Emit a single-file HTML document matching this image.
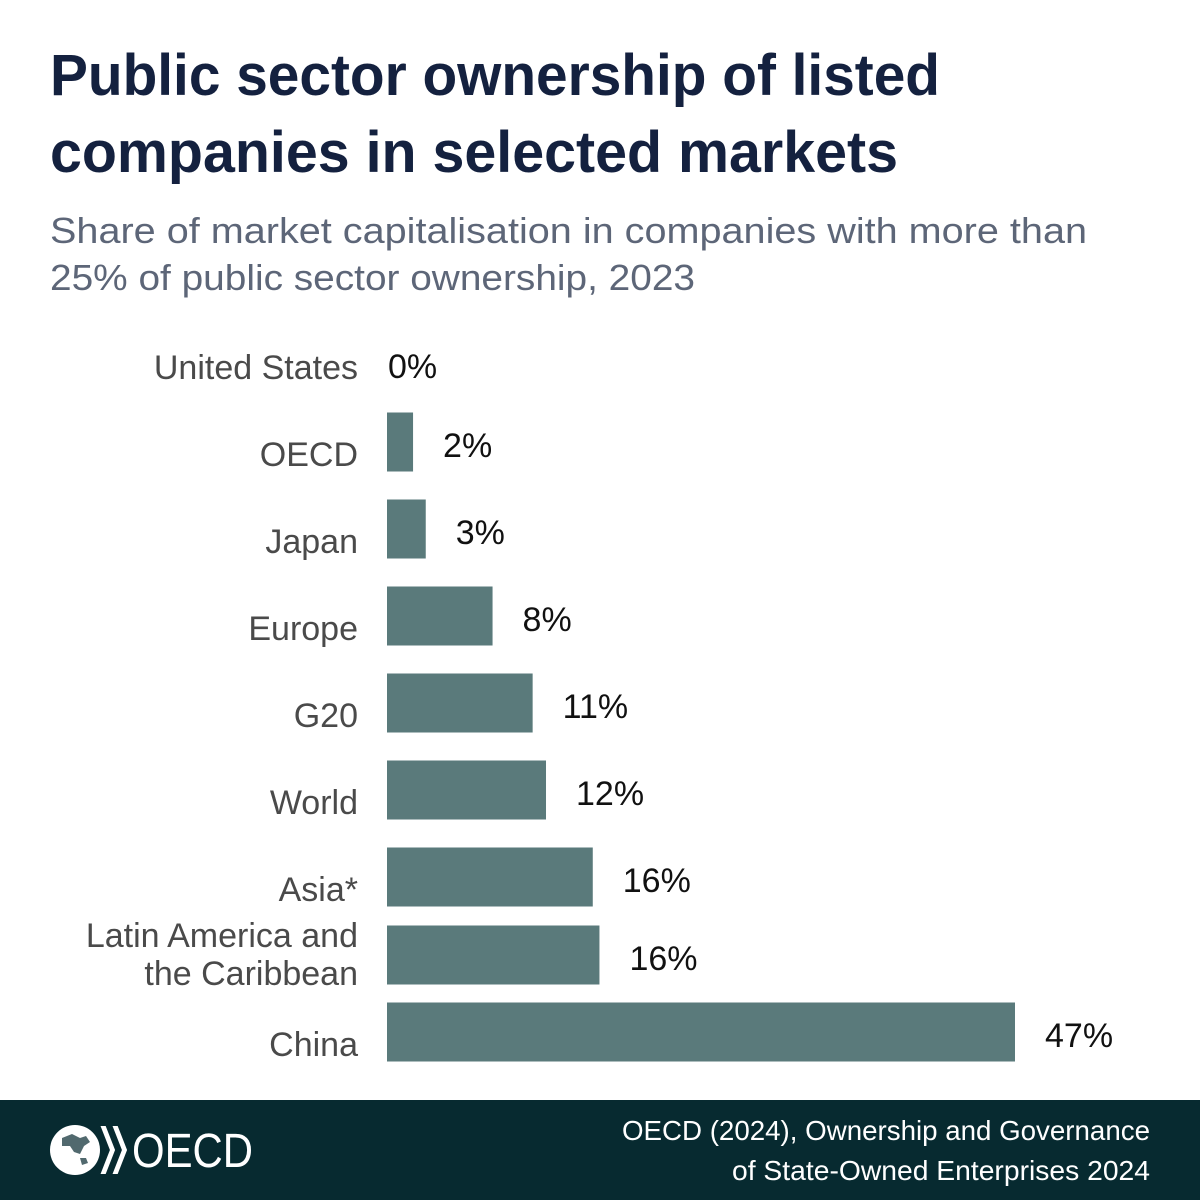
<!DOCTYPE html>
<html><head><meta charset="utf-8"><style>
html,body{margin:0;padding:0;background:#fff}
svg{display:block}
text{font-family:"Liberation Sans",sans-serif}
</style></head><body>
<svg width="1200" height="1200" viewBox="0 0 1200 1200">
<rect x="0" y="0" width="1200" height="1200" fill="#fff"/>
<g fill="#14213f" font-weight="bold" font-size="58">
<text x="50" y="95" textLength="890" lengthAdjust="spacingAndGlyphs">Public sector ownership of listed</text>
<text x="50" y="172" textLength="848" lengthAdjust="spacingAndGlyphs">companies in selected markets</text>
</g>
<g fill="#5d6678" font-size="36">
<text x="50" y="243" textLength="1037" lengthAdjust="spacingAndGlyphs">Share of market capitalisation in companies with more than</text>
<text x="50" y="290" textLength="645" lengthAdjust="spacingAndGlyphs">25% of public sector ownership, 2023</text>
</g>
<g id="bars"></g>
<rect x="0" y="1100" width="1200" height="100" fill="#072a30"/>
<g>
<circle cx="75" cy="1150" r="25" fill="#fff"/>
<path d="M62 1138 l10 -4 l8 4 l6 -2 l4 6 l-6 4 l-4 8 l-6 -2 l-4 -6 l-8 0 z M80 1158 l6 0 l2 5 l-6 2 z" fill="#072a30" opacity="0.7"/>
<path d="M102 1127 l9 23 l-9 23 l3 0 l9 -23 l-9 -23 z M114 1127 l9 23 l-9 23 l3 0 l9 -23 l-9 -23 z" fill="#fff" stroke="#fff" stroke-width="2"/>
<text x="132" y="1167" font-size="48" fill="#fff" textLength="121" lengthAdjust="spacingAndGlyphs">OECD</text>
</g>
<g fill="#fff" font-size="28" text-anchor="end">
<text x="1150" y="1140" textLength="528" lengthAdjust="spacingAndGlyphs">OECD (2024), Ownership and Governance</text>
<text x="1150" y="1180" textLength="418" lengthAdjust="spacingAndGlyphs">of State-Owned Enterprises 2024</text>
</g>
</svg>
<script>
const categories = ["United States","OECD","Japan","Europe","G20","World","Asia*","Latin America and|the Caribbean","China"];
const values = [0, 1.95, 2.9, 7.9, 10.9, 11.9, 15.4, 15.9, 47];
const valueLabels = ["0%","2%","3%","8%","11%","12%","16%","16%","47%"];

const NS = "http://www.w3.org/2000/svg";
const g = document.getElementById('bars');
const x0 = 387, pxPer = 628/47;
function xScale(v){ return x0 + v*pxPer; }
function yCenter(i){ return i <= 6 ? 355 + i*87 : (i === 7 ? 955 : 1032); }
const barH = 59;
function mk(tag, attrs){ const e = document.createElementNS(NS, tag); for (const k in attrs) e.setAttribute(k, attrs[k]); return e; }
categories.forEach((c, i) => {
  const cy = yCenter(i);
  const bar = mk('rect', {x: x0, y: cy - barH/2, width: Math.max(0, xScale(values[i]) - x0), height: barH, fill: '#5a7a7b'});
  
  
  g.appendChild(bar);
  const lines = c.split('|');
  lines.forEach((ln, j) => {
    const y = lines.length === 1 ? cy + 24 : cy - 8 + j*38;
    const t = mk('text', {x: 358, y: y, 'text-anchor': 'end', 'font-size': 34, fill: '#4a4a4a'});
    t.textContent = ln;
    
    
    g.appendChild(t);
  });
  const vx = values[i] === 0 ? x0 + 1 : xScale(values[i]) + 30;
  const vy = values[i] === 0 ? cy + 23 : cy + 15;
  const vt = mk('text', {x: vx, y: vy, 'font-size': 34, fill: '#111'});
  vt.textContent = valueLabels[i];
  
  
  g.appendChild(vt);
});
</script>
</body></html>
